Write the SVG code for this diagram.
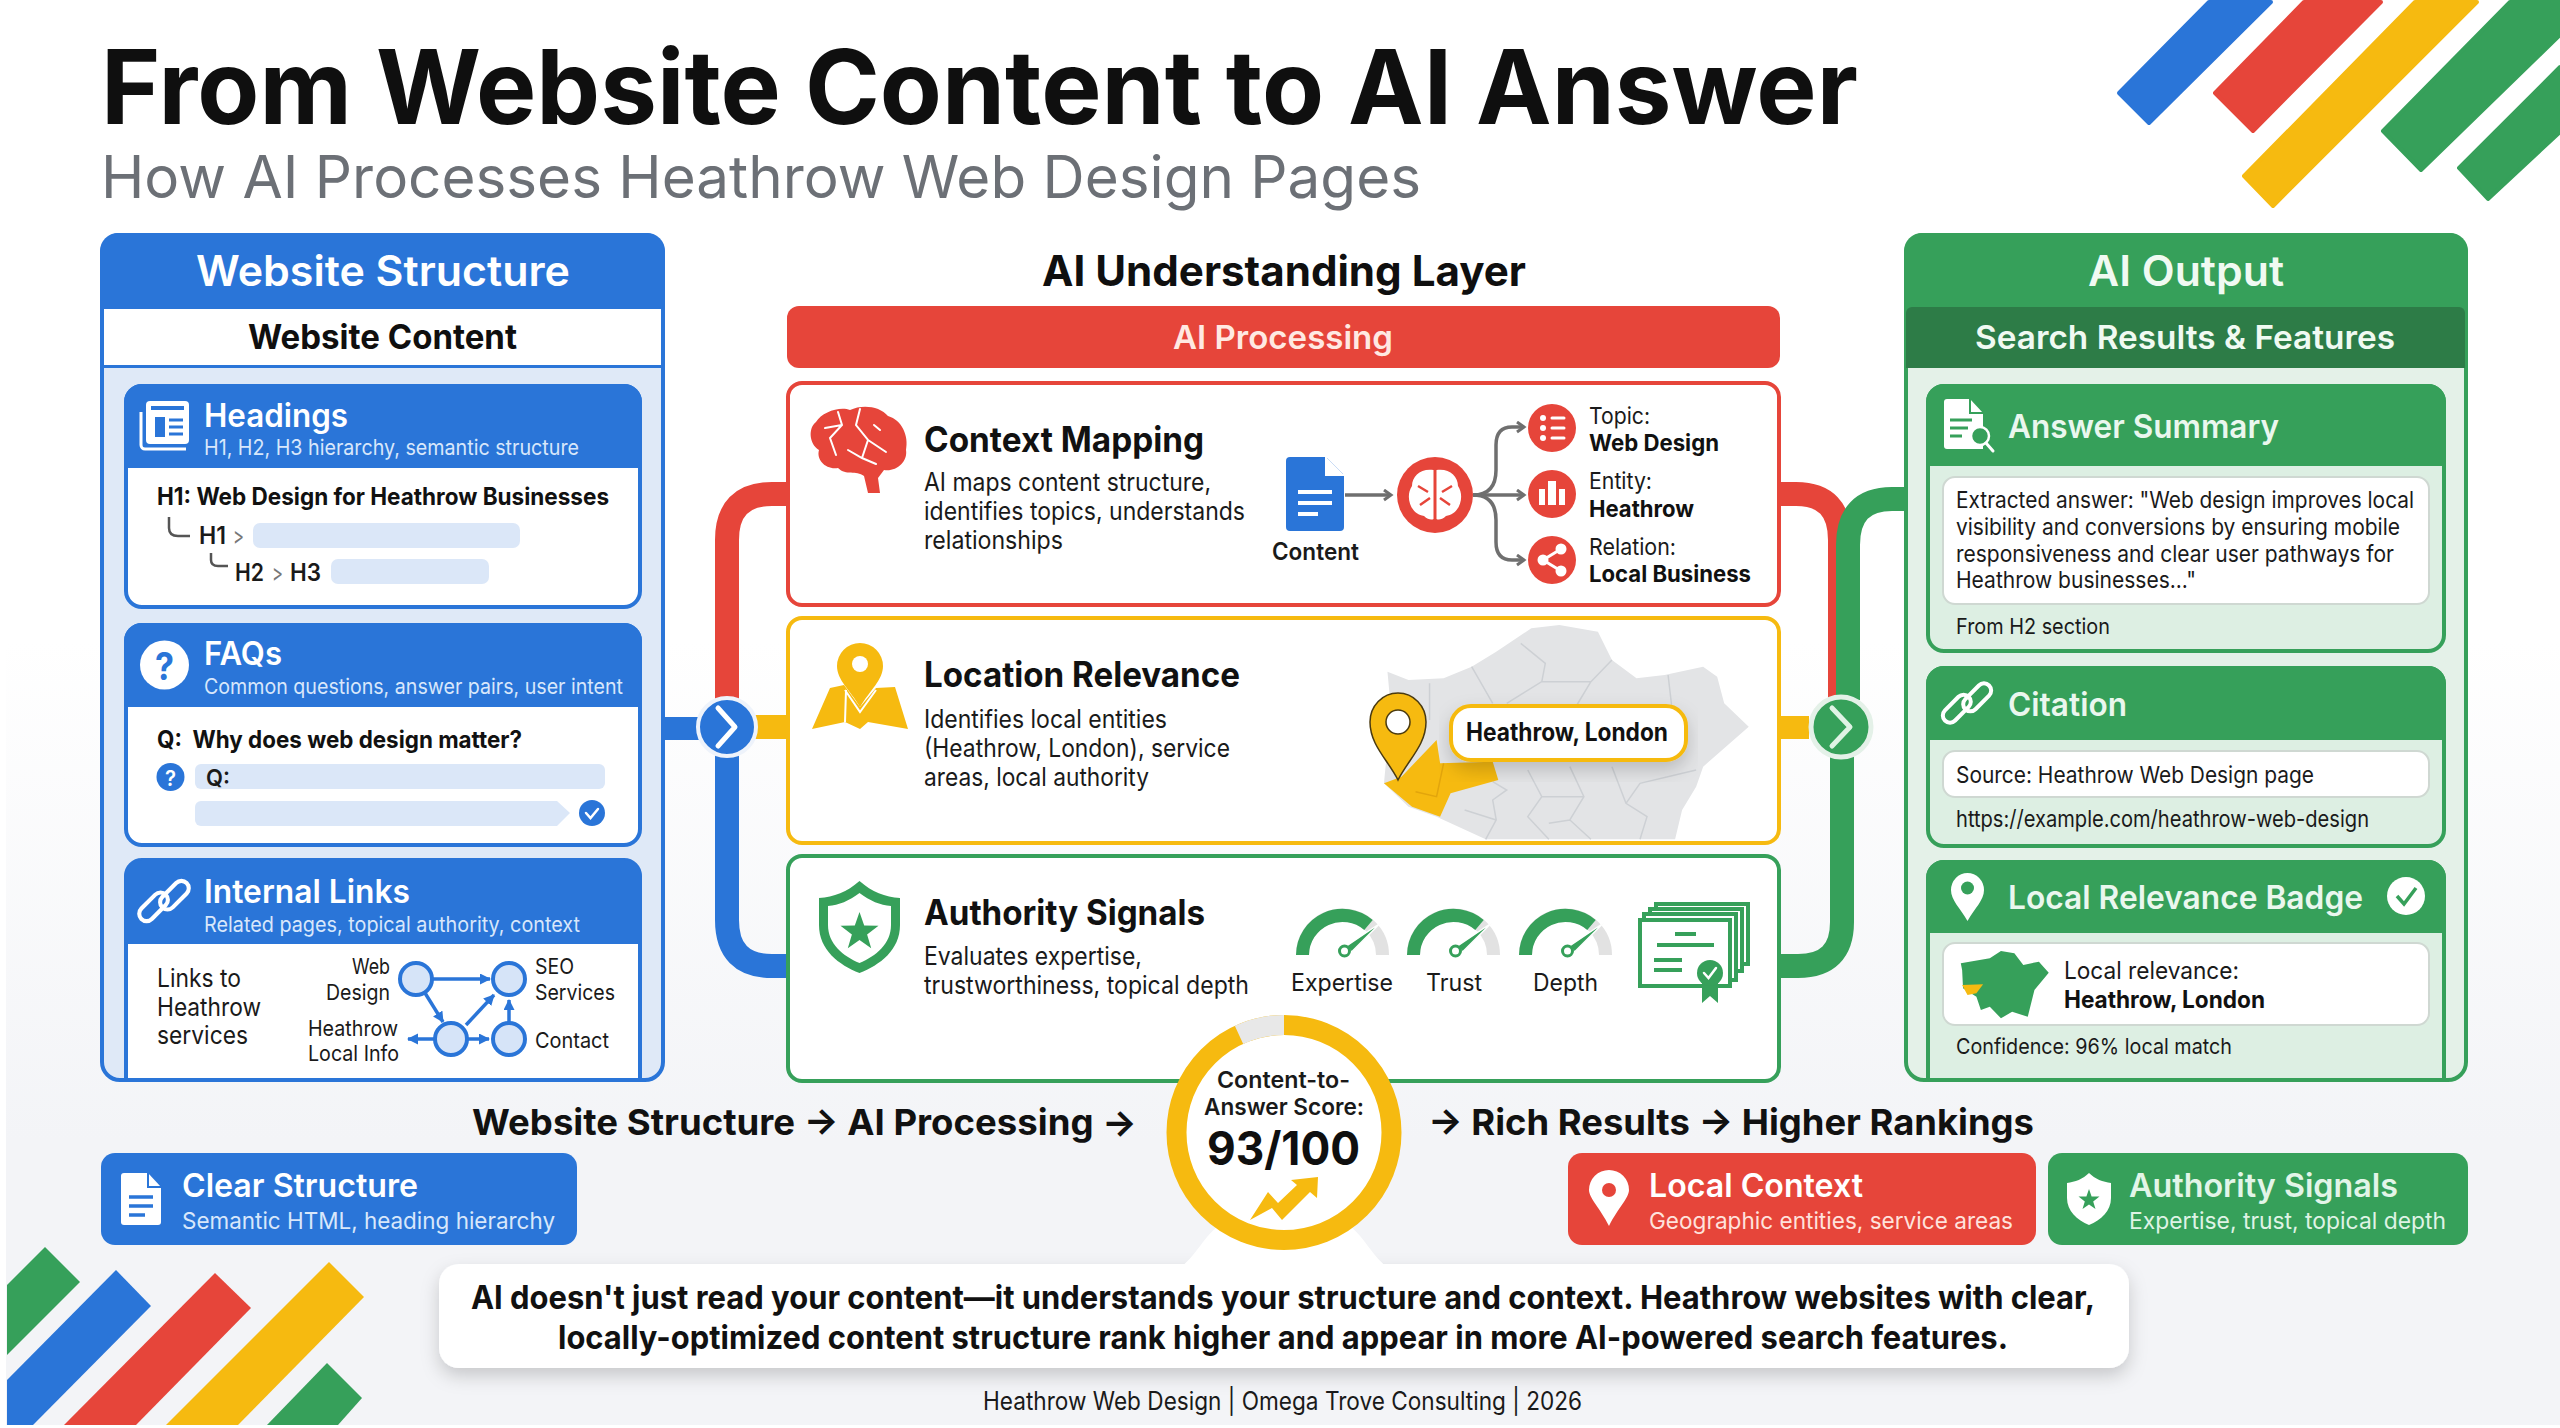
<svg xmlns="http://www.w3.org/2000/svg" width="2560" height="1428" viewBox="0 0 2560 1428">
<style>
text{font-family:Inter,"Liberation Sans",sans-serif;fill:#1a1a1a;transform:translateY(1.5px)}
.b{font-weight:700;fill:#0f0f0f}
.s{font-weight:600}
.h{font-weight:700;fill:#111}
.w{font-weight:600;fill:#fff}
.ws{font-weight:400;fill:#d8e7fb}
.wg{font-weight:400;fill:#dff3e5}
.wr{font-weight:400;fill:#ffe2dc}
.card{stroke-width:4}
.cb{fill:#fff;stroke:#2a75d8}
.bf{fill:#2a75d8}
.rf{fill:#e6453a}
.yf{fill:#f6ba10}
.gf{fill:#36a05a}
.tube{fill:none;stroke-width:24}
.wl{fill:none;stroke:#fff;stroke-width:3;stroke-linecap:round}
.gy{fill:none;stroke:#6f6f6f;stroke-width:3.5}
.lk{fill:none;stroke:#2a75d8;stroke-width:3.5}
.nd{fill:#d6e4f8;stroke:#2a75d8;stroke-width:4}
.bar{fill:#dbe7f8}
.box{fill:#fff;stroke:#cfd8d2;stroke-width:2}
</style>
<defs>
<linearGradient id="bg" x1="0" y1="0" x2="0" y2="1"><stop offset=".45" stop-color="#ffffff"/><stop offset=".8" stop-color="#f3f4f7"/><stop offset="1" stop-color="#f3f4f7"/></linearGradient>
<filter id="sh" x="-5%" y="-30%" width="110%" height="170%"><feDropShadow dx="0" dy="8" stdDeviation="9" flood-color="#000" flood-opacity=".18"/></filter>
<marker id="ag" markerWidth="12" markerHeight="14" refX="9" refY="6" orient="auto" markerUnits="userSpaceOnUse"><path d="M2,1 L9,6 L2,11" fill="none" stroke="#6f6f6f" stroke-width="3"/></marker>
<marker id="ab" markerWidth="12" markerHeight="12" refX="10" refY="5.500" orient="auto" markerUnits="userSpaceOnUse"><path d="M0,0 L11,5.500 L0,11Z" fill="#2a75d8"/></marker>
<g id="chain" fill="none" stroke="#fff" stroke-width="5"><rect x="-35" y="-13" width="42" height="18" rx="9"/><rect x="-7" y="-5" width="42" height="18" rx="9"/></g>
<g id="gauge"><path d="M-40,47 A40,40 0 0 1 40,47" fill="none" stroke="#e2e2e2" stroke-width="13"/><path d="M-40,47 A40,40 0 0 1 26,17" fill="none" stroke="#36a05a" stroke-width="13"/><path d="M38,15 L4,38 L9,44Z" fill="#36a05a" stroke="#fff" stroke-width="1.500"/><circle cx="2" cy="43" r="5" fill="#fff" stroke="#36a05a" stroke-width="3"/></g>
</defs>
<rect width="2560" height="1428" fill="#fff"/>
<rect x="6" width="2554" height="1425" fill="url(#bg)"/>

<g id="corner-top-right" stroke-linejoin="round" stroke-width="4">
<polygon class="bf" stroke="#2a75d8" points="2209,2 2271,2 2149,123 2119,93"/>
<polygon class="rf" stroke="#e6453a" points="2304,2 2381,2 2253,131 2215,93"/>
<polygon class="yf" stroke="#f6ba10" points="2415,2 2477,2 2273,206 2244,176"/>
<polygon class="gf" stroke="#36a05a" points="2510,2 2560,2 2560,35 2421,170 2383,131"/>
<polygon class="gf" stroke="#36a05a" points="2560,67 2560,132 2488,199 2459,168"/>
</g>
<g id="corner-bottom-left">
<polygon class="gf" points="45,1247 80,1282 7,1355 7,1285"/>
<polygon class="bf" points="116,1270 151,1306 33,1425 7,1425 7,1380"/>
<polygon class="rf" points="215,1273 251,1308 136,1425 64,1425"/>
<polygon class="yf" points="329,1262 364,1297 238,1425 166,1425"/>
<polygon class="gf" points="327,1363 362,1398 338,1425 267,1425"/>
</g>

<g id="title">
<text x="101" y="122.500" font-size="103" class="b" textLength="1757" lengthAdjust="spacingAndGlyphs">From Website Content to AI Answer</text>
<text x="101" y="196.500" font-size="59" style="fill:#6c7076" textLength="1320" lengthAdjust="spacingAndGlyphs">How AI Processes Heathrow Web Design Pages</text>
</g>

<g id="connectors">
<path class="tube" stroke="#e6453a" d="M788,494 H772 Q727,494 727,540 V700"/>
<path class="tube" stroke="#2a75d8" d="M727,750 V920 Q727,966 772,966 H788"/>
<rect x="665" y="717" width="35" height="23" class="bf"/>
<rect x="755" y="715" width="33" height="24" class="yf"/>
<path class="tube" stroke="#e6453a" d="M1779,494 H1796 Q1840,494 1840,540 V700"/>
<path class="tube" stroke="#36a05a" d="M1904,499 H1892 Q1848,499 1848,545 V700"/>
<path class="tube" stroke="#36a05a" d="M1842,750 V922 Q1842,966 1798,966 H1779"/>
<rect x="1779" y="716" width="30" height="23" class="yf"/>
<g id="hub-left"><circle cx="727" cy="727" r="29" class="bf" stroke="#eef3fb" stroke-width="4"/><path d="M718,708 L735,727 L718,746" fill="none" stroke="#fff" stroke-width="5" stroke-linecap="round" stroke-linejoin="round"/></g>
<g id="hub-right"><circle cx="1841" cy="727" r="30" class="gf" stroke="#e4f1e8" stroke-width="5"/><path d="M1832,708 L1850,727 L1832,746" fill="none" stroke="#dff3e5" stroke-width="5" stroke-linecap="round" stroke-linejoin="round"/></g>
</g>

<g id="panel-website-structure">
<rect x="102" y="235" width="561" height="845" rx="18" fill="#dfe9f7" stroke="#2a75d8" stroke-width="4"/>
<path class="bf" d="M100,311 V251 a18,18 0 0 1 18,-18 H647 a18,18 0 0 1 18,18 V311 Z"/>
<rect x="104" y="309" width="557" height="56" fill="#fff"/><rect x="100" y="365" width="565" height="3" class="bf"/>
<text x="196" y="284.500" font-size="42" class="w" textLength="374" lengthAdjust="spacingAndGlyphs">Website Structure</text>
<text x="248" y="347.500" font-size="34" class="b" textLength="269" lengthAdjust="spacingAndGlyphs">Website Content</text>
</g>

<g id="card-headings">
<rect x="126" y="386" width="514" height="221" rx="16" class="card cb"/>
<path class="bf" d="M124,468 V402 a18,18 0 0 1 18,-18 H624 a18,18 0 0 1 18,18 V468Z"/>
<rect x="146" y="401" width="43" height="43" rx="4" fill="#fff"/>
<path d="M141,412 V445 a4,4 0 0 0 4,4 H186" fill="none" stroke="#fff" stroke-width="3"/>
<rect x="151" y="406" width="33" height="4" class="bf"/><rect x="155" y="417" width="10" height="20" class="bf"/><path d="M169,420 H183 M169,427 H183 M169,434 H183" stroke="#2a75d8" stroke-width="3"/>
<text x="204" y="425" font-size="32" class="w" textLength="144" lengthAdjust="spacingAndGlyphs">Headings</text>
<text x="204" y="453" font-size="21" class="ws" textLength="375" lengthAdjust="spacingAndGlyphs">H1, H2, H3 hierarchy, semantic structure</text>
<text x="157" y="503" font-size="24" class="h" textLength="452" lengthAdjust="spacingAndGlyphs">H1: Web Design for Heathrow Businesses</text>
<path d="M169,517 V528 Q169,536 178,536 H190 M211,553 V560 Q211,566 218,566 H228" fill="none" stroke="#555" stroke-width="2.500"/>
<text x="199" y="542" font-size="24" class="s" textLength="27" lengthAdjust="spacingAndGlyphs">H1</text>
<text x="233" y="542" font-size="24" style="fill:#777" textLength="11" lengthAdjust="spacingAndGlyphs">&gt;</text>
<rect x="253" y="523" width="267" height="25" rx="7" class="bar"/>
<text x="235" y="579" font-size="24" class="s" textLength="29" lengthAdjust="spacingAndGlyphs">H2</text>
<text x="272" y="579" font-size="24" style="fill:#777" textLength="11" lengthAdjust="spacingAndGlyphs">&gt;</text>
<text x="290" y="579" font-size="24" class="s" textLength="31" lengthAdjust="spacingAndGlyphs">H3</text>
<rect x="331" y="559" width="158" height="25" rx="7" class="bar"/>
</g>

<g id="card-faqs">
<rect x="126" y="625" width="514" height="220" rx="16" class="card cb"/>
<path class="bf" d="M124,707 V641 a18,18 0 0 1 18,-18 H624 a18,18 0 0 1 18,18 V707Z"/>
<circle cx="164.500" cy="665" r="24.500" fill="#fff"/>
<text x="155" y="678" font-size="38" style="font-weight:700;fill:#2a75d8" textLength="19" lengthAdjust="spacingAndGlyphs">?</text>
<text x="204" y="663" font-size="32" class="w" textLength="78" lengthAdjust="spacingAndGlyphs">FAQs</text>
<text x="204" y="692" font-size="21" class="ws" textLength="419" lengthAdjust="spacingAndGlyphs">Common questions, answer pairs, user intent</text>
<text x="157" y="746" font-size="24" class="h" textLength="365" lengthAdjust="spacingAndGlyphs" xml:space="preserve">Q:  Why does web design matter?</text>
<circle cx="170.500" cy="777" r="14" class="bf"/>
<text x="165" y="784" font-size="21" style="font-weight:600;fill:#fff" textLength="11" lengthAdjust="spacingAndGlyphs">?</text>
<rect x="195" y="764" width="410" height="25" rx="6" class="bar"/>
<text x="206" y="784" font-size="23" class="s" textLength="24" lengthAdjust="spacingAndGlyphs">Q:</text>
<path class="bar" d="M201,801 H557 L570,813 L557,826 H201 a6,6 0 0 1 -6,-6 V807 a6,6 0 0 1 6,-6Z"/>
<circle cx="592" cy="813" r="13" class="bf"/><path d="M586,813 L590.500,818 L598,809" class="wl" style="stroke-width:2.500"/>
</g>

<g id="card-internal-links">
<path d="M126,1080 V876 a16,16 0 0 1 16,-16 H624 a16,16 0 0 1 16,16 V1080Z" class="card cb"/>
<path class="bf" d="M124,944 V878 a18,18 0 0 1 18,-18 H624 a18,18 0 0 1 18,18 V944Z"/>
<use href="#chain" transform="translate(164,901) rotate(-45) scale(.82)"/>
<text x="204" y="901" font-size="32" class="w" textLength="206" lengthAdjust="spacingAndGlyphs">Internal Links</text>
<text x="204" y="930" font-size="21" class="ws" textLength="376" lengthAdjust="spacingAndGlyphs">Related pages, topical authority, context</text>
<text x="157" y="985" font-size="25" textLength="84" lengthAdjust="spacingAndGlyphs">Links to</text>
<text x="157" y="1014" font-size="25" textLength="104" lengthAdjust="spacingAndGlyphs">Heathrow</text>
<text x="157" y="1042" font-size="25" textLength="91" lengthAdjust="spacingAndGlyphs">services</text>
<path class="lk" marker-end="url(#ab)" d="M433,979 H490"/>
<path class="lk" marker-end="url(#ab)" d="M425,993 L443,1022"/>
<path class="lk" marker-end="url(#ab)" d="M466,1025 L494,995"/>
<path class="lk" marker-end="url(#ab)" d="M509,1023 V1000"/>
<path class="lk" marker-end="url(#ab)" d="M468,1039 H489"/>
<path class="lk" marker-end="url(#ab)" d="M435,1039 H408"/>
<circle cx="416" cy="979" r="16" class="nd"/><circle cx="509" cy="979" r="16" class="nd"/><circle cx="451" cy="1039" r="16" class="nd"/><circle cx="509" cy="1039" r="16" class="nd"/>
<text x="352" y="972" font-size="22" textLength="38" lengthAdjust="spacingAndGlyphs">Web</text>
<text x="326" y="998" font-size="22" textLength="64" lengthAdjust="spacingAndGlyphs">Design</text>
<text x="535" y="972" font-size="22" textLength="39" lengthAdjust="spacingAndGlyphs">SEO</text>
<text x="535" y="998" font-size="22" textLength="80" lengthAdjust="spacingAndGlyphs">Services</text>
<text x="308" y="1034" font-size="22" textLength="90" lengthAdjust="spacingAndGlyphs">Heathrow</text>
<text x="308" y="1059" font-size="22" textLength="91" lengthAdjust="spacingAndGlyphs">Local Info</text>
<text x="535" y="1046" font-size="22" textLength="74" lengthAdjust="spacingAndGlyphs">Contact</text>
</g>

<g id="center-header">
<text x="1042" y="284.500" font-size="42" class="b" textLength="484" lengthAdjust="spacingAndGlyphs">AI Understanding Layer</text>
<rect x="787" y="306" width="993" height="62" rx="12" class="rf"/>
<text x="1173" y="347.500" font-size="33" style="font-weight:600;fill:#ffe9e2" textLength="220" lengthAdjust="spacingAndGlyphs">AI Processing</text>
</g>

<g id="card-context-mapping">
<rect x="788" y="383" width="991" height="222" rx="14" fill="#fff" stroke="#e6453a" stroke-width="4"/>
<path class="rf" d="M850,410 C862,404 880,406 888,416 C902,420 909,436 906,450 C908,462 896,472 884,470 L878,478 L880,493 L868,493 L864,476 C856,470 846,476 838,468 C826,470 816,460 819,450 C809,444 808,428 816,422 C822,412 840,406 850,410Z"/>
<path class="wl" style="stroke-width:2" d="M838,412 L842,425 L830,438 L836,455 M860,409 L856,425 L868,440 L862,458 M880,430 L874,425 M868,440 L886,452 M825,428 L842,425 M848,450 L862,458 L876,464"/>
<text x="924" y="450" font-size="35" class="h" textLength="280" lengthAdjust="spacingAndGlyphs">Context Mapping</text>
<text x="924" y="489" font-size="25" textLength="287" lengthAdjust="spacingAndGlyphs">AI maps content structure,</text>
<text x="924" y="518" font-size="25" textLength="321" lengthAdjust="spacingAndGlyphs">identifies topics, understands</text>
<text x="924" y="547" font-size="25" textLength="139" lengthAdjust="spacingAndGlyphs">relationships</text>
<path class="bf" d="M1290,457 H1326 L1344,475 V527 a4,4 0 0 1 -4,4 H1290 a4,4 0 0 1 -4,-4 V461 a4,4 0 0 1 4,-4Z"/>
<path d="M1326,457 V475 H1344" fill="#fff" stroke="#fff" stroke-width="2"/>
<path d="M1298,492 H1332 M1298,503 H1332 M1298,514 H1318" stroke="#fff" stroke-width="4"/>
<text x="1272" y="558" font-size="24" class="s" textLength="87" lengthAdjust="spacingAndGlyphs">Content</text>
<path class="gy" marker-end="url(#ag)" d="M1345,495 H1391"/>
<circle cx="1435" cy="495" r="38" class="rf"/>
<path fill="#fff" d="M1433.500,470 C1421,468 1412,476 1412,486 C1405,496 1410,514 1424,516 C1428,520 1432,520 1433.500,519Z M1436.500,470 C1449,468 1458,476 1458,486 C1465,496 1460,514 1446,516 C1442,520 1438,520 1436.500,519Z"/>
<path d="M1418,486 L1428,492 M1420,505 L1430,498 M1452,486 L1442,492 M1450,505 L1440,498" stroke="#e6453a" stroke-width="2.500" fill="none"/>
<path class="gy" marker-end="url(#ag)" d="M1473,495 H1524"/>
<path class="gy" marker-end="url(#ag)" d="M1473,495 C1490,495 1496,485 1496,470 V445 Q1496,427 1512,427 H1524"/>
<path class="gy" marker-end="url(#ag)" d="M1473,495 C1490,495 1496,505 1496,520 V542 Q1496,560 1512,560 H1524"/>
<circle cx="1552" cy="428" r="24" class="rf"/><circle cx="1552" cy="494" r="24" class="rf"/><circle cx="1552" cy="560" r="24" class="rf"/>
<path class="wl" d="M1552,418 H1564 M1552,428 H1564 M1552,438 H1564"/><circle cx="1543" cy="418" r="3" fill="#fff"/><circle cx="1543" cy="428" r="3" fill="#fff"/><circle cx="1543" cy="438" r="3" fill="#fff"/>
<path fill="#fff" d="M1539,489 h6 v16 h-6Z M1548,481 h8 v24 h-8Z M1559,489 h6 v16 h-6Z"/>
<circle cx="1561" cy="549" r="5.500" fill="#fff"/><circle cx="1543" cy="560" r="5.500" fill="#fff"/><circle cx="1561" cy="571" r="5.500" fill="#fff"/><path class="wl" d="M1561,549 L1543,560 L1561,571"/>
<text x="1589" y="422" font-size="23" textLength="61" lengthAdjust="spacingAndGlyphs">Topic:</text>
<text x="1589" y="449" font-size="23" class="h" textLength="130" lengthAdjust="spacingAndGlyphs">Web Design</text>
<text x="1589" y="487" font-size="23" textLength="63" lengthAdjust="spacingAndGlyphs">Entity:</text>
<text x="1589" y="515" font-size="23" class="h" textLength="105" lengthAdjust="spacingAndGlyphs">Heathrow</text>
<text x="1589" y="553" font-size="23" textLength="87" lengthAdjust="spacingAndGlyphs">Relation:</text>
<text x="1589" y="580" font-size="23" class="h" textLength="162" lengthAdjust="spacingAndGlyphs">Local Business</text>
</g>

<g id="card-location-relevance">
<rect x="788" y="618" width="991" height="225" rx="14" fill="#fff" stroke="#f6ba10" stroke-width="4"/>
<polygon class="yf" points="812,729 830,688 844,685 860,707 876,688 895,687 908,729 868,722 860,729 845,722"/>
<path class="yf" d="M860,707 C850,690 837,680 837,666 A23,23 0 1 1 883,666 C883,680 870,690 860,707Z"/>
<circle cx="860" cy="664" r="8" fill="#fff"/>
<path d="M845,690 L860,712 L876,690 M845,722 L846,690" fill="none" stroke="#fff" stroke-width="2"/>
<text x="924" y="685" font-size="35" class="h" textLength="316" lengthAdjust="spacingAndGlyphs">Location Relevance</text>
<text x="924" y="726" font-size="25" textLength="243" lengthAdjust="spacingAndGlyphs">Identifies local entities</text>
<text x="924" y="755" font-size="25" textLength="306" lengthAdjust="spacingAndGlyphs">(Heathrow, London), service</text>
<text x="924" y="784" font-size="25" textLength="225" lengthAdjust="spacingAndGlyphs">areas, local authority</text>
<g transform="translate(700,610) scale(.7015,.3333)">
<polygon fill="#e3e4e6" points="980,185 1010,210 1060,205 1100,170 1135,125 1185,55 1225,45 1280,65 1300,150 1335,205 1375,195 1430,170 1450,200 1460,280 1495,350 1430,470 1420,530 1400,600 1390,688 1120,688 1050,620 1010,590 975,520 985,300"/>
<path fill="none" stroke="#cdd0d4" stroke-width="1.500" vector-effect="non-scaling-stroke" d="M1040,220 L1040,330 M1100,170 L1130,280 M1170,100 L1205,160 L1200,215 L1150,280 M1200,215 L1270,215 L1300,150 M1270,215 L1250,285 M1380,195 L1385,285 M1130,515 L1150,540 L1130,570 L1135,630 L1120,688 M1090,600 L1135,630 M1180,480 L1200,560 L1180,620 L1210,688 M1240,470 L1260,560 L1240,630 L1270,688 M1300,470 L1320,580 L1350,620 L1340,688 M1420,480 L1340,520 L1320,580 M1200,560 L1260,560 M1210,640 L1240,630"/>
<polygon class="yf" points="1000,500 1050,390 1055,460 1130,455 1138,510 1070,550 1055,620 1015,590 975,520"/>
<path d="M1020,545 L1050,560 L1060,460" fill="none" stroke="#e2a50c" stroke-width="1.500" vector-effect="non-scaling-stroke"/>
</g>
<path class="yf" stroke="#4a3a10" stroke-width="1.500" d="M1398,780 C1388,760 1370,745 1370,722 A28,29 0 1 1 1426,722 C1426,745 1408,760 1398,780Z"/>
<circle cx="1398" cy="722" r="12" fill="#fff" stroke="#4a3a10" stroke-width="1.500"/>
<rect x="1451" y="706" width="235" height="54" rx="20" fill="#fff" stroke="#f6ba10" stroke-width="4" filter="url(#sh)"/>
<text x="1466" y="739" font-size="25" class="h" textLength="202" lengthAdjust="spacingAndGlyphs">Heathrow, London</text>
</g>

<g id="card-authority-signals">
<rect x="788" y="856" width="991" height="225" rx="14" fill="#fff" stroke="#36a05a" stroke-width="4"/>
<path class="gf" d="M859.500,881 C872,892 885,897 900,898 V925 C900,950 880,965 859.500,973 C839,965 819,950 819,925 V898 C834,897 847,892 859.500,881Z"/>
<path fill="#fff" d="M859.500,893 C870,901 880,905 891,906 V925 C891,944 876,956 859.500,963 C843,956 828,944 828,925 V906 C839,905 849,901 859.500,893Z"/>
<polygon class="gf" points="859.500,912 864.200,925.500 878.500,925.800 867.100,934.500 871.200,948.200 859.500,940 847.800,948.200 851.900,934.500 840.500,925.800 854.800,925.500"/>
<text x="924" y="923" font-size="35" class="h" textLength="281" lengthAdjust="spacingAndGlyphs">Authority Signals</text>
<text x="924" y="963" font-size="25" textLength="218" lengthAdjust="spacingAndGlyphs">Evaluates expertise,</text>
<text x="924" y="992" font-size="25" textLength="325" lengthAdjust="spacingAndGlyphs">trustworthiness, topical depth</text>
<use href="#gauge" x="1342.500" y="908"/><use href="#gauge" x="1453.500" y="908"/><use href="#gauge" x="1565.500" y="908"/>
<text x="1291" y="989" font-size="24" textLength="102" lengthAdjust="spacingAndGlyphs">Expertise</text>
<text x="1426" y="989" font-size="24" textLength="56" lengthAdjust="spacingAndGlyphs">Trust</text>
<text x="1533" y="989" font-size="24" textLength="65" lengthAdjust="spacingAndGlyphs">Depth</text>
<g fill="#fff" stroke="#36a05a" stroke-width="4">
<rect x="1656" y="904" width="92" height="60"/><rect x="1650" y="909" width="92" height="62"/><rect x="1644" y="914" width="92" height="66"/><rect x="1640" y="920" width="90" height="66"/>
</g>
<path d="M1675,934 H1696 M1657,945 H1714 M1654,960 H1682 M1654,970 H1682" stroke="#36a05a" stroke-width="4"/>
<path class="gf" d="M1702,980 V1003 L1710,996 L1718,1003 V980Z"/>
<circle cx="1710" cy="973" r="13" class="gf"/><path d="M1704,973 L1708.500,978 L1716,968" class="wl" style="stroke-width:2.500"/>
</g>

<g id="panel-ai-output">
<rect x="1906" y="235" width="560" height="845" rx="18" fill="#e4f1e8" stroke="#36a05a" stroke-width="4"/>
<path class="gf" d="M1904,310 V251 a18,18 0 0 1 18,-18 H2450 a18,18 0 0 1 18,18 V310Z"/>
<path fill="#2d7c47" d="M1906,368 V313 a6,6 0 0 1 6,-6 H2459 a6,6 0 0 1 6,6 V368Z"/>
<text x="2088" y="284.500" font-size="42" style="font-weight:600;fill:#f0faf2" textLength="196" lengthAdjust="spacingAndGlyphs">AI Output</text>
<text x="1975" y="347.500" font-size="33" style="font-weight:600;fill:#f0faf2" textLength="420" lengthAdjust="spacingAndGlyphs">Search Results &amp; Features</text>
</g>

<g id="card-answer-summary">
<rect x="1928" y="386" width="516" height="265" rx="16" fill="#ddefe3" stroke="#36a05a" stroke-width="4"/>
<path class="gf" d="M1926,466 V402 a18,18 0 0 1 18,-18 H2428 a18,18 0 0 1 18,18 V466Z"/>
<path fill="#fff" d="M1947,399 H1970 L1983,413 V449 H1947 a3,3 0 0 1 -3,-3 V402 a3,3 0 0 1 3,-3Z"/>
<path d="M1970,399 V413 H1983" fill="none" stroke="#36a05a" stroke-width="2"/>
<path d="M1950,420 H1972 M1950,428 H1968 M1950,436 H1962" stroke="#36a05a" stroke-width="3"/>
<circle cx="1980" cy="436" r="9" class="gf" stroke="#fff" stroke-width="2.500"/><path class="wl" d="M1986,443 L1993,451"/>
<text x="2008" y="436" font-size="33" style="font-weight:600;fill:#eaf7ee" textLength="271" lengthAdjust="spacingAndGlyphs">Answer Summary</text>
<rect x="1943" y="477" width="486" height="127" rx="12" class="box"/>
<text x="1956" y="506" font-size="23" textLength="458" lengthAdjust="spacingAndGlyphs">Extracted answer: "Web design improves local</text>
<text x="1956" y="533" font-size="23" textLength="444" lengthAdjust="spacingAndGlyphs">visibility and conversions by ensuring mobile</text>
<text x="1956" y="560" font-size="23" textLength="438" lengthAdjust="spacingAndGlyphs">responsiveness and clear user pathways for</text>
<text x="1956" y="586" font-size="23" textLength="240" lengthAdjust="spacingAndGlyphs">Heathrow businesses..."</text>
<text x="1956" y="632" font-size="22" textLength="154" lengthAdjust="spacingAndGlyphs">From H2 section</text>
</g>

<g id="card-citation">
<rect x="1928" y="668" width="516" height="178" rx="16" fill="#ddefe3" stroke="#36a05a" stroke-width="4"/>
<path class="gf" d="M1926,740 V684 a18,18 0 0 1 18,-18 H2428 a18,18 0 0 1 18,18 V740Z"/>
<use href="#chain" transform="translate(1967,703) rotate(-45) scale(.8)"/>
<text x="2008" y="714" font-size="33" style="font-weight:600;fill:#eaf7ee" textLength="119" lengthAdjust="spacingAndGlyphs">Citation</text>
<rect x="1943" y="751" width="486" height="46" rx="12" class="box"/>
<text x="1956" y="781" font-size="23" textLength="358" lengthAdjust="spacingAndGlyphs">Source: Heathrow Web Design page</text>
<text x="1956" y="825" font-size="23" textLength="413" lengthAdjust="spacingAndGlyphs">https://example.com/heathrow-web-design</text>
</g>

<g id="card-local-relevance">
<path d="M1928,1080 V878 a16,16 0 0 1 16,-16 H2428 a16,16 0 0 1 16,16 V1080Z" fill="#ddefe3" stroke="#36a05a" stroke-width="4"/>
<path class="gf" d="M1926,933 V878 a18,18 0 0 1 18,-18 H2428 a18,18 0 0 1 18,18 V933Z"/>
<path fill="#fff" d="M1967.500,921 C1960,908 1951,900 1951,890 A16.500,17 0 1 1 1984,890 C1984,900 1975,908 1967.500,921Z"/><circle cx="1967.500" cy="888" r="6.500" class="gf"/>
<text x="2008" y="907.500" font-size="33" style="font-weight:600;fill:#eaf7ee" textLength="355" lengthAdjust="spacingAndGlyphs">Local Relevance Badge</text>
<circle cx="2406" cy="896" r="19" fill="#fff"/><path d="M2397,896 L2404,904 L2416,888" fill="none" stroke="#36a05a" stroke-width="3.500"/>
<rect x="1943" y="943" width="486" height="82" rx="12" class="box"/>
<g transform="translate(1780,650) scale(.4464,.3333)">
<polygon class="gf" points="405,940 470,925 495,903 525,910 545,945 580,935 602,968 570,1020 555,1100 520,1085 495,1105 470,1070 450,1080 440,1040 410,1015 408,960"/>
<polygon class="yf" points="408,1005 455,1003 440,1030 420,1035"/>
</g>
<text x="2064" y="977" font-size="24" textLength="175" lengthAdjust="spacingAndGlyphs">Local relevance:</text>
<text x="2064" y="1006" font-size="24" class="h" textLength="201" lengthAdjust="spacingAndGlyphs">Heathrow, London</text>
<text x="1956" y="1052" font-size="22" textLength="276" lengthAdjust="spacingAndGlyphs">Confidence: 96% local match</text>
</g>

<g id="flow-labels">
<text x="472" y="1133" font-size="36" class="h" textLength="665" lengthAdjust="spacingAndGlyphs">Website Structure → AI Processing →</text>
<text x="1428" y="1133" font-size="36" class="h" textLength="606" lengthAdjust="spacingAndGlyphs">→ Rich Results → Higher Rankings</text>
</g>

<g id="badge-clear-structure">
<rect x="101" y="1153" width="476" height="92" rx="14" class="bf"/>
<path fill="#fff" d="M124,1173 H148 L161,1187 V1222 a3,3 0 0 1 -3,3 H124 a3,3 0 0 1 -3,-3 V1176 a3,3 0 0 1 3,-3Z"/>
<path d="M148,1173 V1187 H161" fill="none" stroke="#2a75d8" stroke-width="2"/>
<path d="M129,1197 H153 M129,1206 H153 M129,1215 H145" stroke="#2a75d8" stroke-width="3.500"/>
<text x="182" y="1195" font-size="32" class="w" textLength="236" lengthAdjust="spacingAndGlyphs">Clear Structure</text>
<text x="182" y="1227" font-size="23" class="ws" textLength="373" lengthAdjust="spacingAndGlyphs">Semantic HTML, heading hierarchy</text>
</g>

<g id="badge-local-context">
<rect x="1568" y="1153" width="468" height="92" rx="14" class="rf"/>
<path fill="#fff" d="M1609,1226 C1600,1208 1589,1198 1589,1190 A20,20 0 1 1 1629,1190 C1629,1198 1618,1208 1609,1226Z"/><circle cx="1609" cy="1190" r="7" class="rf"/>
<text x="1649" y="1195" font-size="32" class="w" textLength="214" lengthAdjust="spacingAndGlyphs">Local Context</text>
<text x="1649" y="1227" font-size="23" class="wr" textLength="364" lengthAdjust="spacingAndGlyphs">Geographic entities, service areas</text>
</g>

<g id="badge-authority-signals">
<rect x="2048" y="1153" width="420" height="92" rx="14" class="gf"/>
<path fill="#fff" d="M2089,1173 C2095,1179 2103,1182 2111,1183 V1198 C2111,1211 2101,1220 2089,1225 C2077,1220 2067,1211 2067,1198 V1183 C2075,1182 2083,1179 2089,1173Z"/>
<polygon class="gf" points="2089,1189 2091.600,1196.400 2099.500,1196.600 2093.200,1201.400 2095.500,1208.900 2089,1204.400 2082.500,1208.900 2084.800,1201.400 2078.500,1196.600 2086.400,1196.400"/>
<text x="2129" y="1195" font-size="32" style="font-weight:600;fill:#e2f5e8" textLength="269" lengthAdjust="spacingAndGlyphs">Authority Signals</text>
<text x="2129" y="1227" font-size="23" class="wg" textLength="317" lengthAdjust="spacingAndGlyphs">Expertise, trust, topical depth</text>
</g>

<g id="callout">
<rect x="439" y="1264" width="1690" height="104" rx="20" fill="#fff" filter="url(#sh)"/>
<path fill="#fff" d="M1180,1268 C1200,1252 1205,1232 1225,1222 H1343 C1363,1232 1368,1252 1388,1268Z"/>
<text x="471" y="1307" font-size="33" class="h" textLength="1624" lengthAdjust="spacingAndGlyphs">AI doesn't just read your content—it understands your structure and context. Heathrow websites with clear,</text>
<text x="558" y="1347" font-size="33" class="h" textLength="1450" lengthAdjust="spacingAndGlyphs">locally-optimized content structure rank higher and appear in more AI-powered search features.</text>
</g>

<g id="score">
<circle cx="1284" cy="1132.500" r="107.500" fill="#fff" stroke="#f6ba10" stroke-width="20"/>
<path d="M1284,1025 A107.500,107.500 0 0 0 1239,1034.900" fill="none" stroke="#e8e8e8" stroke-width="20"/>
<text x="1217" y="1086" font-size="23" class="s" textLength="133" lengthAdjust="spacingAndGlyphs">Content-to-</text>
<text x="1204" y="1113" font-size="23" class="s" textLength="160" lengthAdjust="spacingAndGlyphs">Answer Score:</text>
<text x="1207" y="1163" font-size="46" class="b" textLength="153" lengthAdjust="spacingAndGlyphs">93/100</text>
<path class="yf" d="M1250,1220 L1268,1192 L1278,1203 L1297,1185 L1291,1180 L1318,1177 L1317,1198 L1310,1192 L1282,1220 L1272,1208Z"/>
</g>

<g id="footer">
<text x="983" y="1408" font-size="25" textLength="599" lengthAdjust="spacingAndGlyphs">Heathrow Web Design | Omega Trove Consulting | 2026</text>
</g>
</svg>
